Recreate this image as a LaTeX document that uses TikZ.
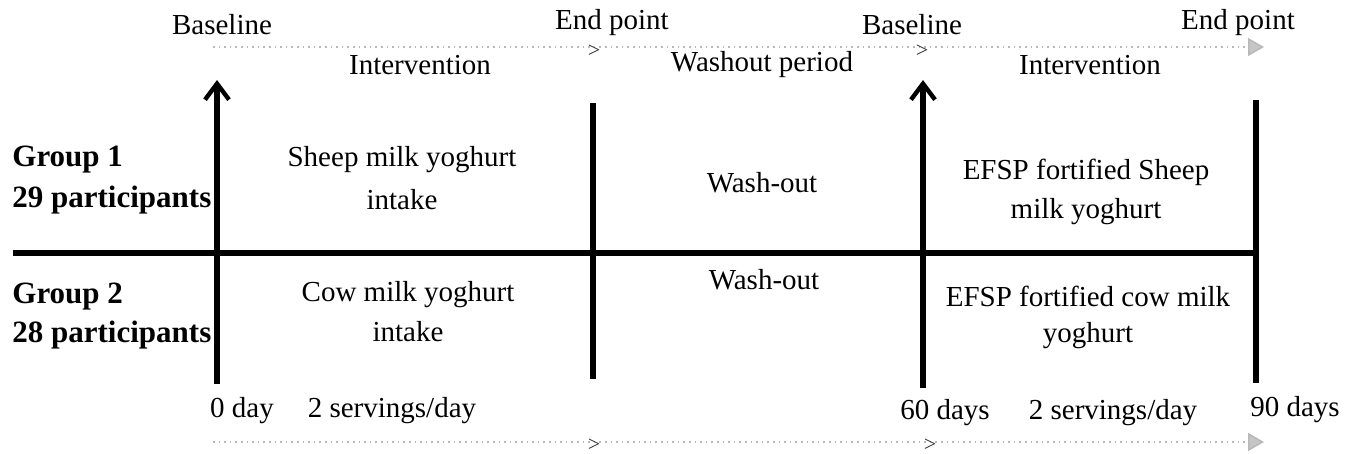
\documentclass[tikz,border=0pt]{standalone}
\usepackage{fontspec}
\setmainfont{Liberation Serif}
\usetikzlibrary{arrows.meta}
\begin{document}
\begin{tikzpicture}[x=0.5pt,y=-0.5pt,
  txt/.style={inner sep=0pt,font=\fontsize{14.5}{20}\selectfont,align=center},
  grp/.style={inner sep=0pt,font=\fontsize{15.5}{20}\selectfont\bfseries,align=left,anchor=west},
  chev/.style={inner sep=0pt,font=\fontsize{11}{11}\selectfont,text=black!80},
  bar/.style={line width=2.6pt},
  upar/.style={line width=2.6pt,-{Straight Barb[length=8pt,width=12pt,line width=2.2pt]}},
  dots/.style={gray!55,dotted,line width=0.8pt,-{Triangle[length=8pt,width=9pt,fill=gray!45]}}
]
\useasboundingbox (0,0) rectangle (1354,454);
% dotted timelines
\coordinate (ts) at (213,47);
\coordinate (te) at (1264,47);
\coordinate (bs) at (213,442);
\coordinate (be) at (1264,442);
\draw[dots] (ts) -- (te);
\draw[dots] (bs) -- (be);
\node[chev] (c1) at (594,51) {>};
\node[chev] (c2) at (922,51) {>};
\node[chev] (c3) at (594,445) {>};
\node[chev] (c4) at (930,445) {>};
% top labels
\node[txt] (bl1) at (222,25) {Baseline};
\node[txt] (ep1) at (612,23) {End point};
\node[txt] (bl2) at (912,25) {Baseline};
\node[txt] (ep2) at (1238,23) {End point};
\node[txt] (iv1) at (420,65) {Intervention};
\node[txt] (wp) at (762,65) {Washout period};
\node[txt] (iv2) at (1090,65) {Intervention};
% verticals
\coordinate (v1b) at (217,384); \coordinate (v1t) at (217,80);
\coordinate (v2t) at (593,103); \coordinate (v2b) at (593,379);
\coordinate (v3b) at (923,388); \coordinate (v3t) at (923,80);
\coordinate (v4t) at (1256,100); \coordinate (v4b) at (1256,383);
\coordinate (hl) at (13,253); \coordinate (hr) at (1256,253);
\draw[bar] (hl) -- (hr);
\draw[upar] (v1b) -- (v1t);
\draw[bar] (v2t) -- (v2b);
\draw[upar] (v3b) -- (v3t);
\draw[bar] (v4t) -- (v4b);
% group labels
\node[grp] (g1) at (12,160) {Group 1};
\node[grp] (g1n) at (12,200) {29 participants};
\node[grp] (g2) at (12,297) {Group 2};
\node[grp] (g2n) at (12,335) {28 participants};
% cells
\node[txt] (s1) at (402,160) {Sheep milk yoghurt};
\node[txt] (s1b) at (402,200) {intake};
\node[txt] (w1) at (762,183) {Wash-out};
\node[txt] (e1) at (1086,172) {EFSP fortified Sheep};
\node[txt] (e1b) at (1086,212) {milk yoghurt};
\node[txt] (c1a) at (408,295) {Cow milk yoghurt};
\node[txt] (c1b) at (408,332) {intake};
\node[txt] (w2) at (764,280) {Wash-out};
\node[txt] (e2) at (1088,296) {EFSP fortified cow milk};
\node[txt] (e2b) at (1088,336) {yoghurt};
% bottom labels
\node[txt] (d0) at (242,411) {0 day};
\node[txt] (sv1) at (392,411) {2 servings/day};
\node[txt] (d60) at (945,413) {60 days};
\node[txt] (sv2) at (1113,413) {2 servings/day};
\node[txt] (d90) at (1295,410) {90 days};
\end{tikzpicture}
\end{document}
